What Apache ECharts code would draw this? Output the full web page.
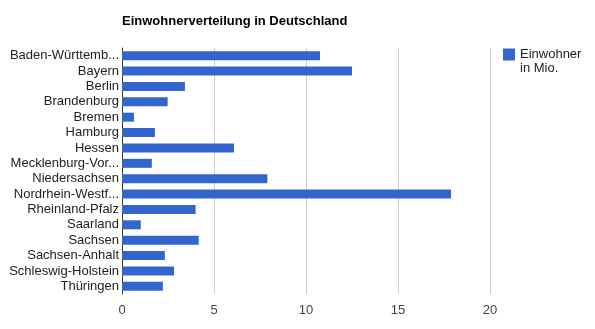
<!DOCTYPE html>
<html><head><meta charset="utf-8">
<script src="https://cdn.jsdelivr.net/npm/echarts@6/dist/echarts.min.js"></script>
<style>html,body{margin:0;padding:0;background:#fff}#c{width:595px;height:329px}</style>
</head><body><div id="c"></div>
<script>
const categories = ["Baden-Württemberg","Bayern","Berlin","Brandenburg","Bremen","Hamburg","Hessen","Mecklenburg-Vorpommern","Niedersachsen","Nordrhein-Westfalen","Rheinland-Pfalz","Saarland","Sachsen","Sachsen-Anhalt","Schleswig-Holstein","Thüringen"];
const values = [10.76, 12.5, 3.42, 2.48, 0.65, 1.79, 6.09, 1.62, 7.9, 17.88, 4.0, 1.02, 4.17, 2.33, 2.83, 2.22];
const seriesName = "Einwohner in Mio.";
const legendLines = ["Einwohner", "in Mio."];
const titleText = "Einwohnerverteilung in Deutschland";
const xTicks = [0, 5, 10, 15, 20];

const chart = echarts.init(document.getElementById('c'), null, {renderer:'canvas'});
const font = 'Arial, "Liberation Sans", sans-serif';
chart.setOption({
  animation: false,
  title: {text: titleText, left: 117, top: 10, textStyle: {fontFamily: font, fontSize: 13, fontWeight: 'bold', color: '#000'}},
  legend: {
    left: 503, top: 48, orient: 'vertical', padding: 0,
    itemWidth: 12, itemHeight: 12, itemGap: 5,
    icon: 'rect',
    formatter: () => legendLines[0],
    textStyle: {fontFamily: font, fontSize: 13, color: '#222'},
    data: [seriesName]
  },
  graphic: [{
    type: 'text', left: 520, top: 62,
    style: {text: legendLines[1], font: '13px ' + font, fill: '#222'}
  }],
  grid: {left: 122, right: 105, top: 48, bottom: 35, containLabel: false},
  xAxis: {
    type: 'value', min: xTicks[0], max: xTicks[xTicks.length-1], interval: 5,
    axisLine: {show: false}, axisTick: {show: false},
    splitLine: {lineStyle: {color: '#cccccc', width: 1}},
    axisLabel: {fontFamily: font, fontSize: 13, color: '#444', margin: 10}
  },
  yAxis: {
    type: 'category', data: categories, inverse: true,
    axisLine: {show: true, lineStyle: {color: '#333', width: 1}},
    axisTick: {show: false},
    axisLabel: {interval: 0, fontFamily: font, fontSize: 13, color: '#222', margin: 3, width: 113, overflow: 'truncate', ellipsis: '...'}
  },
  series: [{
    name: seriesName, type: 'bar', data: values, barWidth: 9,
    itemStyle: {color: '#3366cc'}
  }]
});
</script></body></html>
